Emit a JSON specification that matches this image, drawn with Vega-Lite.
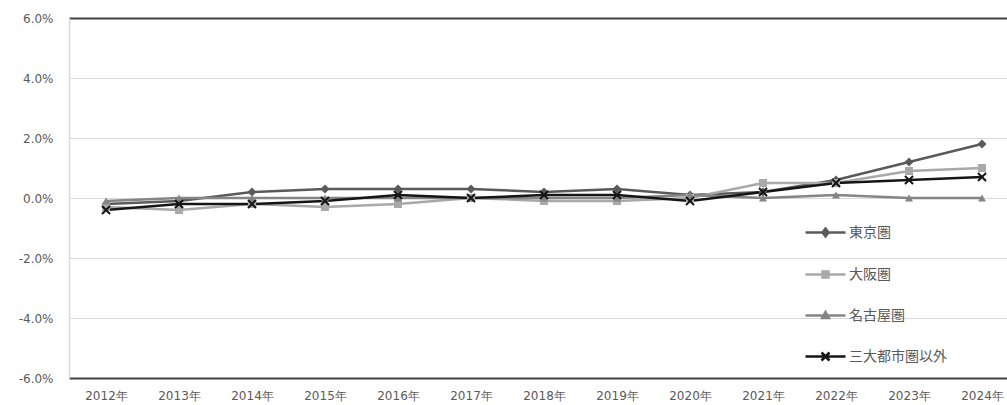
{
  "$schema": "https://vega.github.io/schema/vega-lite/v6.json",
  "width": 938,
  "height": 360,
  "autosize": {"type": "none"},
  "padding": {"left": 69, "top": 18, "right": 0, "bottom": 27},
  "background": "white",
  "config": {"view": {"stroke": null}, "font": "Noto Sans CJK JP"},
  "data": {"values": [
    {"year": "2012年", "series": "東京圏", "value": -0.002},
    {"year": "2013年", "series": "東京圏", "value": -0.001},
    {"year": "2014年", "series": "東京圏", "value": 0.002},
    {"year": "2015年", "series": "東京圏", "value": 0.003},
    {"year": "2016年", "series": "東京圏", "value": 0.003},
    {"year": "2017年", "series": "東京圏", "value": 0.003},
    {"year": "2018年", "series": "東京圏", "value": 0.002},
    {"year": "2019年", "series": "東京圏", "value": 0.003},
    {"year": "2020年", "series": "東京圏", "value": 0.001},
    {"year": "2021年", "series": "東京圏", "value": 0.002},
    {"year": "2022年", "series": "東京圏", "value": 0.006},
    {"year": "2023年", "series": "東京圏", "value": 0.012},
    {"year": "2024年", "series": "東京圏", "value": 0.018},
    {"year": "2012年", "series": "大阪圏", "value": -0.003},
    {"year": "2013年", "series": "大阪圏", "value": -0.004},
    {"year": "2014年", "series": "大阪圏", "value": -0.002},
    {"year": "2015年", "series": "大阪圏", "value": -0.003},
    {"year": "2016年", "series": "大阪圏", "value": -0.002},
    {"year": "2017年", "series": "大阪圏", "value": 0.0},
    {"year": "2018年", "series": "大阪圏", "value": -0.001},
    {"year": "2019年", "series": "大阪圏", "value": -0.001},
    {"year": "2020年", "series": "大阪圏", "value": 0.0},
    {"year": "2021年", "series": "大阪圏", "value": 0.005},
    {"year": "2022年", "series": "大阪圏", "value": 0.005},
    {"year": "2023年", "series": "大阪圏", "value": 0.009},
    {"year": "2024年", "series": "大阪圏", "value": 0.010},
    {"year": "2012年", "series": "名古屋圏", "value": -0.001},
    {"year": "2013年", "series": "名古屋圏", "value": 0.0},
    {"year": "2014年", "series": "名古屋圏", "value": 0.0},
    {"year": "2015年", "series": "名古屋圏", "value": 0.0},
    {"year": "2016年", "series": "名古屋圏", "value": 0.0},
    {"year": "2017年", "series": "名古屋圏", "value": 0.0},
    {"year": "2018年", "series": "名古屋圏", "value": 0.0},
    {"year": "2019年", "series": "名古屋圏", "value": 0.0},
    {"year": "2020年", "series": "名古屋圏", "value": 0.001},
    {"year": "2021年", "series": "名古屋圏", "value": 0.0},
    {"year": "2022年", "series": "名古屋圏", "value": 0.001},
    {"year": "2023年", "series": "名古屋圏", "value": 0.0},
    {"year": "2024年", "series": "名古屋圏", "value": 0.0},
    {"year": "2012年", "series": "三大都市圏以外", "value": -0.004},
    {"year": "2013年", "series": "三大都市圏以外", "value": -0.002},
    {"year": "2014年", "series": "三大都市圏以外", "value": -0.002},
    {"year": "2015年", "series": "三大都市圏以外", "value": -0.001},
    {"year": "2016年", "series": "三大都市圏以外", "value": 0.001},
    {"year": "2017年", "series": "三大都市圏以外", "value": 0.0},
    {"year": "2018年", "series": "三大都市圏以外", "value": 0.001},
    {"year": "2019年", "series": "三大都市圏以外", "value": 0.001},
    {"year": "2020年", "series": "三大都市圏以外", "value": -0.001},
    {"year": "2021年", "series": "三大都市圏以外", "value": 0.002},
    {"year": "2022年", "series": "三大都市圏以外", "value": 0.005},
    {"year": "2023年", "series": "三大都市圏以外", "value": 0.006},
    {"year": "2024年", "series": "三大都市圏以外", "value": 0.007}
  ]},
  "encoding": {
    "x": {
      "field": "year", "type": "ordinal", "sort": null,
      "scale": {"type": "point", "padding": 0.42466, "align": 0.5968},
      "axis": {"title": null, "labelAngle": 0, "ticks": false, "tickSize": 0, "domain": false, "grid": false,
               "labelColor": "#595959", "labelFontSize": 12, "labelPadding": 12, "labelFont": "DejaVu Sans"}
    },
    "y": {
      "field": "value", "type": "quantitative",
      "scale": {"domain": [-0.06, 0.06], "nice": false},
      "axis": {
        "title": null,
        "values": [-0.06, -0.04, -0.02, 0, 0.02, 0.04, 0.06],
        "labelExpr": "replace(format(datum.value, '.1%'), '−', '-')",
        "labelColor": "#595959", "labelFontSize": 12, "labelPadding": 16, "labelFont": "DejaVu Sans",
        "ticks": false, "tickSize": 0,
        "domainColor": "#d9d9d9", "domainWidth": 1.5,
        "gridColor": {"condition": {"test": "abs(datum.value) > 0.059", "value": "#404040"}, "value": "#d9d9d9"},
        "gridWidth": {"condition": {"test": "abs(datum.value) > 0.059", "value": 2}, "value": 1}
      }
    },
    "color": {
      "field": "series", "type": "nominal",
      "sort": ["東京圏", "大阪圏", "名古屋圏", "三大都市圏以外"],
      "scale": {"domain": ["東京圏", "大阪圏", "名古屋圏", "三大都市圏以外"],
                "range": ["#5a5a5a", "#a9a9a9", "#858585", "#151515"]},
      "legend": {
        "title": null, "orient": "none", "legendX": 735, "legendY": 193,
        "padding": 0, "rowPadding": 11, "symbolSize": 1600, "labelOffset": 2,
        "labelFontSize": 14, "labelColor": "#595959", "labelFont": "Noto Sans CJK JP",
        "symbolStrokeWidth": 2.5, "symbolOpacity": 1,
        "symbolFillColor": {"expr": "scale('color', datum.value)"},
        "symbolStrokeColor": {"expr": "scale('color', datum.value)"},
        "symbolType": {"expr": "datum.value == '東京圏' ? 'M-1,0L1,0M0,-0.2L0.15,0L0,0.2L-0.15,0Z' : datum.value == '大阪圏' ? 'M-1,0L1,0M-0.15,-0.15L0.15,-0.15L0.15,0.15L-0.15,0.15Z' : datum.value == '名古屋圏' ? 'M-1,0L1,0M0,-0.17L0.17,0.13L-0.17,0.13Z' : 'M-1,0L1,0M-0.2,-0.2L0.2,0.2M-0.2,0.2L0.2,-0.2'"}
      }
    }
  },
  "layer": [
    {"mark": {"type": "line", "strokeWidth": 2.5}},
    {
      "transform": [{"filter": {"field": "series", "equal": "東京圏"}}],
      "mark": {"type": "point", "shape": "diamond", "filled": true, "opacity": 1, "size": 80}
    },
    {
      "transform": [{"filter": {"field": "series", "equal": "大阪圏"}}],
      "mark": {"type": "point", "shape": "square", "filled": true, "opacity": 1, "size": 64}
    },
    {
      "transform": [{"filter": {"field": "series", "equal": "名古屋圏"}}],
      "mark": {"type": "point", "shape": "triangle-up", "filled": true, "opacity": 1, "size": 64}
    },
    {
      "transform": [{"filter": {"field": "series", "equal": "三大都市圏以外"}}],
      "mark": {"type": "point", "shape": "M-1,-0.7L-0.7,-1L0,-0.3L0.7,-1L1,-0.7L0.3,0L1,0.7L0.7,1L0,0.3L-0.7,1L-1,0.7L-0.3,0Z", "filled": true, "opacity": 1, "size": 90}
    }
  ]
}
